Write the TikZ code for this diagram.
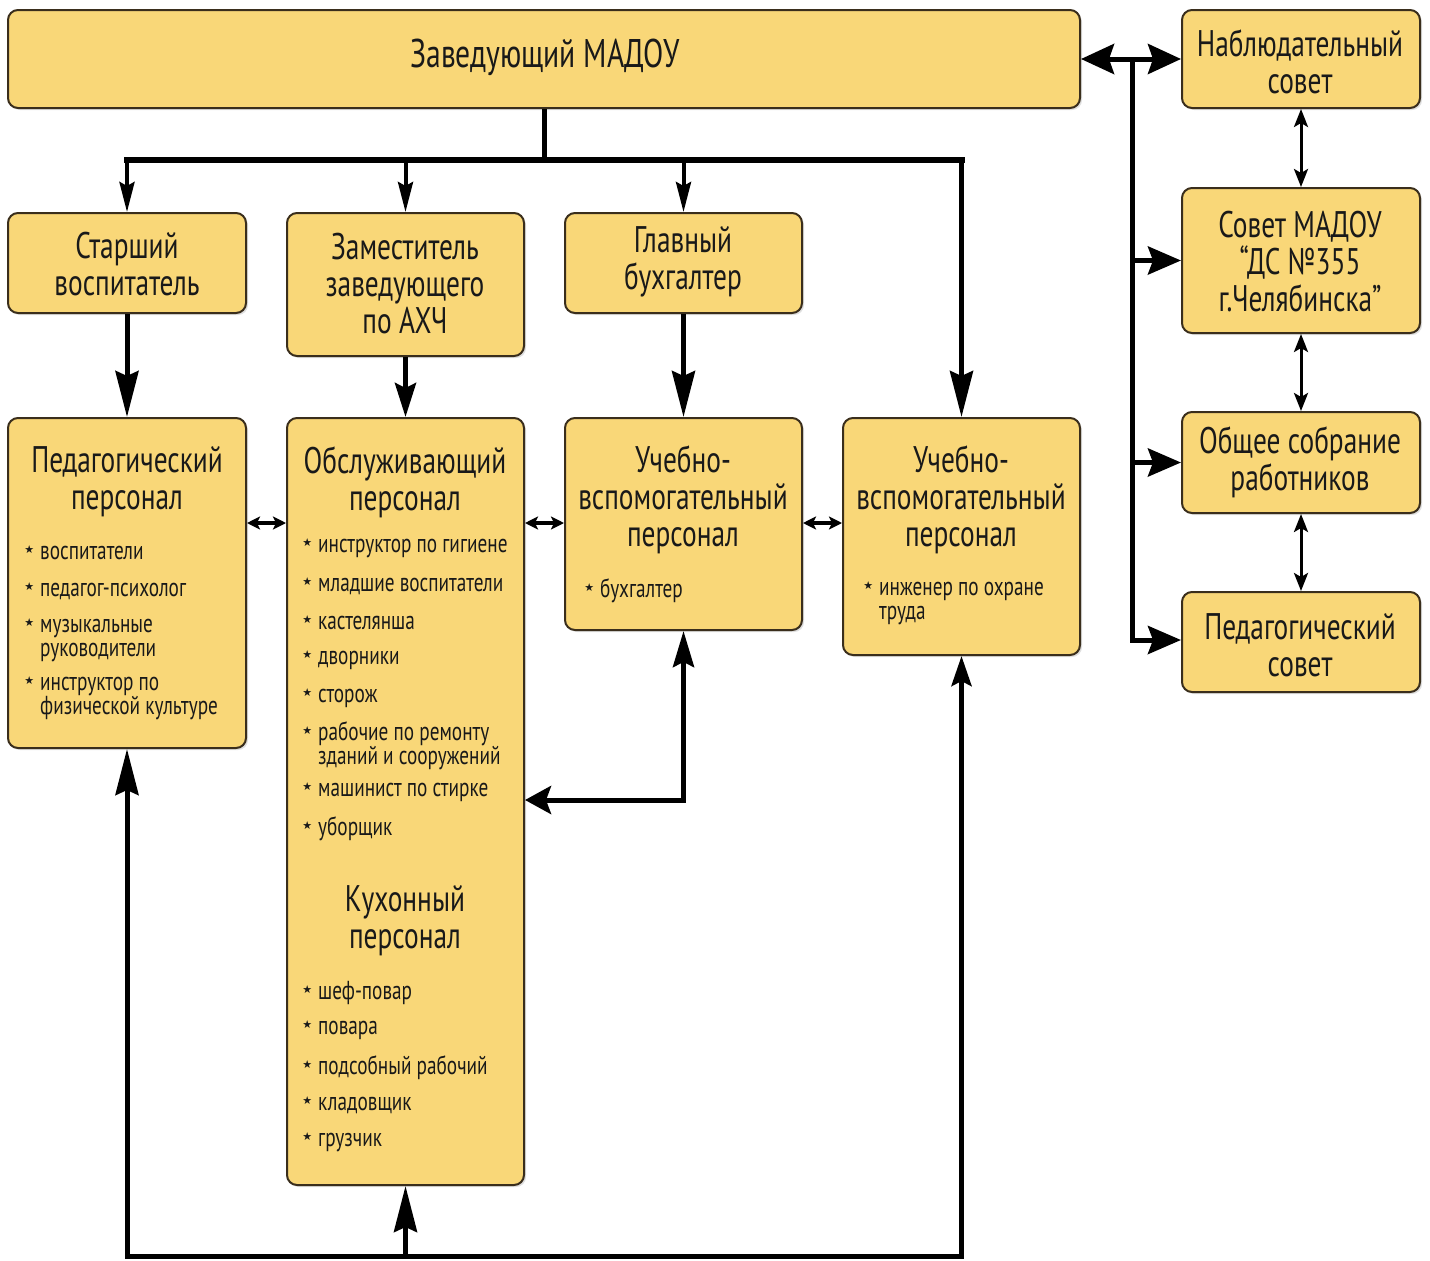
\documentclass[tikz,border=0pt]{standalone}
\usepackage{fontspec}
\setmainfont{PT Sans}[FakeStretch=0.74]
\newfontfamily\symfont{DejaVu Sans}
\usetikzlibrary{arrows.meta,shadows}
\definecolor{boxfill}{HTML}{F9D778}
\definecolor{boxline}{HTML}{3A2E1C}
\newcommand{\mybul}{\llap{\raisebox{0.45ex}{\symfont\fontsize{11}{11}\selectfont ★}\hspace{6pt}}}
\newcommand{\ttlfont}{\fontsize{37}{37}\selectfont}
\newcommand{\itmfont}{\fontsize{26}{24}\selectfont}
\begin{document}
\begin{tikzpicture}[x=1pt,y=-1pt,
  box/.style={draw=boxline, line width=2pt, fill=boxfill, rounded corners=10pt, inner sep=0pt,
    drop shadow={opacity=0.25, shadow xshift=2pt, shadow yshift=-2pt}},
  ttl/.style={align=center, inner sep=0pt, font=\ttlfont, text=black!90},
  itm/.style={anchor=west, align=left, inner sep=0pt, font=\itmfont, text=black!90},
  conn/.style={line width=5pt, black},
  big/.style={conn, -{Stealth[length=46pt,width=23pt,inset=5pt]}},
  mid/.style={conn, -{Stealth[length=34pt,width=21pt,inset=5pt]}},
  small/.style={line width=4pt, black, -{Stealth[length=30pt,width=15pt,inset=4pt]}},
  side/.style={conn, -{Stealth[length=33pt,width=28pt,inset=5pt]}},
  dblh/.style={line width=4pt, black, {Stealth[length=13pt,width=13pt,inset=3pt]}-{Stealth[length=13pt,width=13pt,inset=3pt]}},
  dblv/.style={line width=3pt, black, {Stealth[length=18pt,width=14pt,inset=4pt]}-{Stealth[length=18pt,width=14pt,inset=4pt]}}
]
\useasboundingbox (0,0) rectangle (1430,1261);

% boxes
\node[box, minimum width=1072pt, minimum height=98pt] (top) at (544,59) {};
\node[box, minimum width=238pt, minimum height=98pt] (nab) at (1301,59) {};
\node[box, minimum width=238pt, minimum height=145pt] (sov) at (1301,260.5) {};
\node[box, minimum width=238pt, minimum height=101pt] (obs) at (1301,462.5) {};
\node[box, minimum width=238pt, minimum height=100pt] (pedsov) at (1301,642) {};
\node[box, minimum width=238pt, minimum height=100pt] (star) at (127,263) {};
\node[box, minimum width=237pt, minimum height=143pt] (zam) at (405.5,284.5) {};
\node[box, minimum width=237pt, minimum height=100pt] (glav) at (683.5,263) {};
\node[box, minimum width=238pt, minimum height=330pt] (pedp) at (127,583) {};
\node[box, minimum width=237pt, minimum height=767pt] (obsl) at (405.5,801.5) {};
\node[box, minimum width=237pt, minimum height=212pt] (uv1) at (683.5,524) {};
\node[box, minimum width=237pt, minimum height=237pt] (uv2) at (961.5,536.5) {};

% titles
\node[ttl, font=\fontsize{40}{40}\selectfont] (ttop) at (545,57) {Заведующий МАДОУ};
\node[ttl] (tnab) at (1300,62) {Наблюдательный\\совет};
\node[ttl] (tsov) at (1300,262) {Совет МАДОУ\\“ДС №355\\г.Челябинска”};
\node[ttl] (tobs) at (1300,462) {Общее собрание\\работников};
\node[ttl] (tpedsov) at (1300,645) {Педагогический\\совет};
\node[ttl] (tstar) at (127,264) {Старший\\воспитатель};
\node[ttl] (tzam) at (405,284) {Заместитель\\заведующего\\по АХЧ};
\node[ttl] (tglav) at (683,262) {Главный\\бухгалтер};
\node[ttl] (tpedp) at (127,482) {Педагогический\\персонал};
\node[ttl] (tobsl) at (405,482) {Обслуживающий\\персонал};
\node[ttl] (tuv1) at (683,500) {Учебно-\\вспомогательный\\персонал};
\node[ttl] (tuv2) at (961,500) {Учебно-\\вспомогательный\\персонал};
\node[ttl] (tkux) at (405,921) {Кухонный\\персонал};

% items: pedagogical staff
\node[itm] (p1) at (40,553) {\mybul воспитатели};
\node[itm] (p2) at (40,591) {\mybul педагог-психолог};
\node[itm] (p3) at (40,640) {\mybul музыкальные\\руководители};
\node[itm] (p4) at (40,698) {\mybul инструктор по\\физической культуре};
% service staff
\node[itm] (o1) at (318,548) {\mybul инструктор по гигиене};
\node[itm] (o2) at (318,586) {\mybul младшие воспитатели};
\node[itm] (o3) at (318,623) {\mybul кастелянша};
\node[itm] (o4) at (318,660) {\mybul дворники};
\node[itm] (o5) at (318,698) {\mybul сторож};
\node[itm] (o6) at (318,746) {\mybul рабочие по ремонту\\зданий и сооружений};
\node[itm] (o7) at (318,792) {\mybul машинист по стирке};
\node[itm] (o8) at (318,829) {\mybul уборщик};
% kitchen staff
\node[itm] (k1) at (318,993) {\mybul шеф-повар};
\node[itm] (k2) at (318,1030) {\mybul повара};
\node[itm] (k3) at (318,1068) {\mybul подсобный рабочий};
\node[itm] (k4) at (318,1105) {\mybul кладовщик};
\node[itm] (k5) at (318,1142) {\mybul грузчик};
% educational support
\node[itm] (u1) at (600,591) {\mybul бухгалтер};
\node[itm] (u2) at (879,603) {\mybul инженер по охране\\труда};

% coordinates
\coordinate (bus) at (544,160);
\coordinate (busL) at (127,160);
\coordinate (busR) at (961.5,160);
\coordinate (bot) at (0,1256);
\coordinate (mid1) at (0,523);
\coordinate (k800) at (0,800);
\coordinate (rv) at (1132,59);
\coordinate (rvb) at (1132,640);

% top bus
\draw[line width=5pt] (top.south) -- (bus);
\draw[line width=6pt, line cap=rect] (busL) -- (busR);
\draw[small] (busL) -- (star.north);
\draw[small] (zam.north |- bus) -- (zam.north);
\draw[small] (glav.north |- bus) -- (glav.north);
\draw[big] (busR) -- (uv2.north);

% down arrows
\draw[big] (star.south) -- (pedp.north);
\draw[mid] (zam.south) -- (obsl.north);
\draw[big] (glav.south) -- (uv1.north);

% horizontal double arrows
\draw[dblh] (pedp.east |- mid1) -- (obsl.west |- mid1);
\draw[dblh] (obsl.east |- mid1) -- (uv1.west |- mid1);
\draw[dblh] (uv1.east |- mid1) -- (uv2.west |- mid1);

% uv1 <-> obsl
\draw[conn, {Stealth[length=36pt,width=21pt,inset=5pt]}-{Stealth[length=26pt,width=28pt,inset=5pt]}]
  (uv1.south) |- (obsl.east |- k800);

% bottom bus
\draw[conn, line cap=rect] (pedp.south |- bot) -- (uv2.south |- bot);
\draw[big] (pedp.south |- bot) -- (pedp.south);
\draw[big] (obsl.south |- bot) -- (obsl.south);
\draw[mid, -{Stealth[length=30pt,width=20pt,inset=5pt]}] (uv2.south |- bot) -- (uv2.south);

% right side
\draw[conn, {Stealth[length=33pt,width=30pt,inset=5pt]}-{Stealth[length=33pt,width=30pt,inset=5pt]}] (top.east) -- (nab.west);
\draw[conn, line cap=rect] (rv) -- (rvb);
\draw[side] (rv |- sov.west) -- (sov.west);
\draw[side] (rv |- obs.west) -- (obs.west);
\draw[side] (rvb) -- (pedsov.west |- rvb);

% vertical double arrows
\draw[dblv] (nab.south) -- (sov.north);
\draw[dblv] (sov.south) -- (obs.north);
\draw[dblv] (obs.south) -- (pedsov.north);
\end{tikzpicture}
\end{document}
